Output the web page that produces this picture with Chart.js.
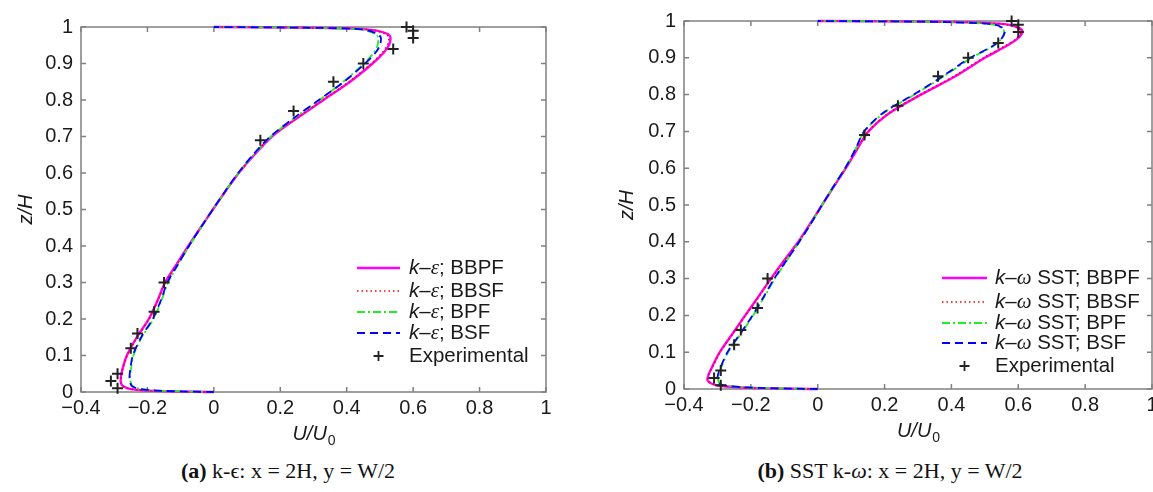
<!DOCTYPE html>
<html>
<head>
<meta charset="utf-8">
<script src="https://cdn.jsdelivr.net/npm/chart.js@4.4.1/dist/chart.umd.min.js"></script>
<style>
  body { margin: 0; width: 1153px; height: 492px; overflow: hidden; background: #fff; position: relative; }
  .box { position: absolute; top: 0; height: 445px; }
  .cap { position: absolute; top: 458px; font-family: "Liberation Serif", serif; font-size: 22px; color: #111; white-space: nowrap; transform: translateX(-50%); }
</style>
</head>
<body>
<div class="box" style="left:0;width:576px"><canvas id="chartA"></canvas></div>
<div class="box" style="left:580px;width:600px"><canvas id="chartB"></canvas></div>
<div class="cap" style="left:288px"><b>(a)</b> k-ϵ: x = 2H, y = W/2</div>
<div class="cap" style="left:890px"><b>(b)</b> SST k-<i>ω</i>: x = 2H, y = W/2</div>
<script>
// z/H levels shared by all computed profiles
const zGrid = [0, 0.003, 0.008, 0.015, 0.025, 0.04, 0.06, 0.1, 0.15, 0.2, 0.25, 0.3, 0.35, 0.4, 0.45, 0.5,
  0.55, 0.6, 0.65, 0.7, 0.75, 0.8, 0.85, 0.9, 0.93, 0.95, 0.97, 0.98, 0.99, 0.995, 0.998, 1];

// (a) k-epsilon, U/U0
const keBBPF = [0, -0.18, -0.25, -0.272, -0.28, -0.28, -0.276, -0.262, -0.232, -0.196, -0.17, -0.147, -0.112, -0.077, -0.04, -0.003,
  0.035, 0.075, 0.122, 0.175, 0.25, 0.33, 0.41, 0.478, 0.512, 0.527, 0.532, 0.525, 0.49, 0.44, 0.3, 0];
const keBBSF = [0, -0.18, -0.25, -0.271, -0.279, -0.279, -0.275, -0.261, -0.231, -0.195, -0.169, -0.146, -0.111, -0.076, -0.04, -0.003,
  0.035, 0.075, 0.121, 0.174, 0.249, 0.328, 0.407, 0.474, 0.507, 0.522, 0.527, 0.52, 0.487, 0.437, 0.3, 0];
const keBPF = [0, -0.15, -0.22, -0.243, -0.25, -0.252, -0.25, -0.242, -0.217, -0.182, -0.158, -0.138, -0.107, -0.074, -0.039, -0.003,
  0.035, 0.074, 0.12, 0.172, 0.242, 0.318, 0.39, 0.452, 0.482, 0.493, 0.495, 0.488, 0.46, 0.415, 0.28, 0];
const keBSF = [0, -0.15, -0.22, -0.245, -0.252, -0.254, -0.252, -0.244, -0.219, -0.184, -0.16, -0.14, -0.108, -0.075, -0.04, -0.003,
  0.034, 0.073, 0.118, 0.17, 0.24, 0.316, 0.392, 0.455, 0.487, 0.5, 0.503, 0.495, 0.465, 0.42, 0.28, 0];

// (b) SST k-omega, U/U0
const swBBPF = [0, -0.2, -0.29, -0.318, -0.33, -0.326, -0.316, -0.293, -0.255, -0.217, -0.178, -0.14, -0.1, -0.058, -0.022, 0.013,
  0.048, 0.084, 0.117, 0.152, 0.215, 0.309, 0.412, 0.5, 0.56, 0.595, 0.613, 0.605, 0.57, 0.5, 0.38, 0];
const swBBSF = [0, -0.2, -0.289, -0.317, -0.329, -0.325, -0.315, -0.292, -0.254, -0.216, -0.177, -0.139, -0.099, -0.057, -0.021, 0.013,
  0.048, 0.083, 0.116, 0.151, 0.213, 0.307, 0.408, 0.496, 0.556, 0.591, 0.609, 0.601, 0.567, 0.497, 0.375, 0];
const swBPF = [0, -0.17, -0.268, -0.293, -0.298, -0.296, -0.288, -0.268, -0.23, -0.193, -0.16, -0.128, -0.092, -0.055, -0.02, 0.013,
  0.047, 0.082, 0.112, 0.14, 0.198, 0.29, 0.378, 0.46, 0.522, 0.548, 0.558, 0.552, 0.525, 0.455, 0.33, 0];
const swBSF = [0, -0.17, -0.27, -0.295, -0.3, -0.298, -0.29, -0.27, -0.232, -0.195, -0.162, -0.13, -0.093, -0.055, -0.02, 0.013,
  0.047, 0.082, 0.112, 0.139, 0.195, 0.287, 0.374, 0.456, 0.52, 0.548, 0.56, 0.555, 0.53, 0.46, 0.33, 0];

// experimental points (same in both panels)
const expU = [0.58, 0.60, 0.60, 0.54, 0.45, 0.36, 0.24, 0.14, -0.15, -0.18, -0.23, -0.25, -0.29, -0.31, -0.29];
const expZ = [1.0, 0.99, 0.97, 0.94, 0.90, 0.85, 0.77, 0.69, 0.30, 0.22, 0.16, 0.12, 0.05, 0.03, 0.01];

const caseNames = ['BBPF', 'BBSF', 'BPF', 'BSF'];
const xTicks = [-0.4, -0.2, 0, 0.2, 0.4, 0.6, 0.8, 1];
const yTicks = [0, 0.1, 0.2, 0.3, 0.4, 0.5, 0.6, 0.7, 0.8, 0.9, 1];

const lineStyles = [
  { color: '#ff00ff', dash: [], width: 2.4 },
  { color: '#ff0000', dash: [1.5, 3], width: 1.6 },
  { color: '#22ee22', dash: [8, 3, 2, 3], width: 1.8 },
  { color: '#0000ff', dash: [8, 5], width: 1.8 },
];

const tickFont = { family: '"Liberation Sans", Arial, sans-serif', size: 20 };
const fmt = v => String(Math.round(v * 10) / 10).replace('-', '\u2212');

const framePlugin = {
  id: 'frame',
  beforeDatasetsDraw(chart) {
    const { ctx, chartArea: a, scales: { x, y } } = chart;
    ctx.save();
    ctx.strokeStyle = '#808080';
    ctx.lineWidth = 1.5;
    ctx.strokeRect(a.left, a.top, a.right - a.left, a.bottom - a.top);
    ctx.beginPath();
    x.ticks.forEach(t => {
      const px = x.getPixelForValue(t.value);
      ctx.moveTo(px, a.bottom); ctx.lineTo(px, a.bottom - 5);
      ctx.moveTo(px, a.top); ctx.lineTo(px, a.top + 5);
    });
    y.ticks.forEach(t => {
      const py = y.getPixelForValue(t.value);
      ctx.moveTo(a.left, py); ctx.lineTo(a.left + 5, py);
      ctx.moveTo(a.right, py); ctx.lineTo(a.right - 5, py);
    });
    ctx.stroke();
    ctx.restore();
  },
  afterDraw(chart, args, opts) {
    const { ctx, chartArea: a } = chart;
    ctx.save();
    // x axis label U/U0
    const cx = (a.left + a.right) / 2;
    const ty = a.bottom + opts.xTitleDy;
    ctx.fillStyle = '#1a1a1a';
    ctx.textBaseline = 'alphabetic';
    ctx.font = 'italic 20px "Liberation Sans", Arial, sans-serif';
    const main = 'U/U';
    const w1 = ctx.measureText(main).width;
    ctx.font = '14px "Liberation Sans", Arial, sans-serif';
    const w2 = ctx.measureText('0').width;
    const x0 = cx - (w1 + w2) / 2;
    ctx.font = 'italic 20px "Liberation Sans", Arial, sans-serif';
    ctx.fillText(main, x0, ty);
    ctx.font = '14px "Liberation Sans", Arial, sans-serif';
    ctx.fillText('0', x0 + w1 + 1, ty + 5);
    ctx.restore();
  }
};

const legendPlugin = {
  id: 'innerLegend',
  afterDatasetsDraw(chart, args, opts) {
    const { ctx, chartArea: a } = chart;
    const sans = '"Liberation Sans", Arial, sans-serif';
    ctx.save();
    ctx.textBaseline = 'middle';
    chart.data.datasets.forEach((ds, i) => {
      const yy = a.bottom + opts.rows[i];
      const l0 = a.right + opts.lineFrom, l1 = a.right + opts.lineTo;
      if (ds.showLine) {
        ctx.beginPath();
        ctx.setLineDash(ds.borderDash || []);
        ctx.strokeStyle = ds.borderColor;
        ctx.lineWidth = ds.borderWidth;
        ctx.moveTo(l0, yy); ctx.lineTo(l1, yy);
        ctx.stroke();
        ctx.setLineDash([]);
      } else {
        const mx = (l0 + l1) / 2;
        ctx.beginPath();
        ctx.strokeStyle = '#222';
        ctx.lineWidth = 1.8;
        ctx.moveTo(mx - 5, yy); ctx.lineTo(mx + 5, yy);
        ctx.moveTo(mx, yy - 5); ctx.lineTo(mx, yy + 5);
        ctx.stroke();
      }
      let tx = a.right + opts.textFrom;
      ctx.fillStyle = '#1a1a1a';
      ds.labelParts.forEach(([txt, font]) => {
        ctx.font = font === 'i' ? 'italic 20.5px ' + sans
          : font === 'g' ? 'italic 21px "Liberation Serif", serif'
          : '20.5px ' + sans;
        ctx.fillText(txt, tx, yy);
        tx += ctx.measureText(txt).width;
      });
    });
    ctx.restore();
  }
};

function buildDatasets(series, greek, extra) {
  const sets = series.map((xs, i) => ({
    label: caseNames[i],
    labelParts: [['k', 'i'], ['\u2013', 'n'], [greek, 'g'], [extra + '; ' + caseNames[i], 'n']],
    data: xs.map((v, k) => ({ x: v, y: zGrid[k] })),
    showLine: true,
    borderColor: lineStyles[i].color,
    borderDash: lineStyles[i].dash,
    borderWidth: lineStyles[i].width,
    pointRadius: 0,
    tension: 0.3,
    clip: 3,
    order: 4 - i,
  }));
  sets.push({
    label: 'Experimental',
    labelParts: [['Experimental', 'n']],
    data: expU.map((v, k) => ({ x: v, y: expZ[k] })),
    showLine: false,
    pointStyle: 'cross',
    pointRadius: 5.5,
    pointBorderWidth: 2,
    borderColor: '#222',
    backgroundColor: '#222',
    clip: false,
    order: 0,
  });
  return sets;
}

function makeChart(id, datasets, cfg) {
  return new Chart(document.getElementById(id), {
    type: 'scatter',
    data: { datasets },
    options: {
      responsive: true,
      maintainAspectRatio: false,
      animation: false,
      layout: { autoPadding: false, padding: { top: cfg.top, right: cfg.right, left: 0, bottom: 0 } },
      scales: {
        x: {
          type: 'linear', min: -0.4, max: 1,
          afterBuildTicks: s => { s.ticks = xTicks.map(v => ({ value: v })); },
          afterFit: s => { s.height = cfg.xHeight; },
          grid: { display: false, drawTicks: false },
          border: { display: false },
          ticks: { font: tickFont, color: '#1a1a1a', padding: 4, maxRotation: 0, autoSkip: false, callback: fmt },
        },
        y: {
          type: 'linear', min: 0, max: 1,
          afterBuildTicks: s => { s.ticks = yTicks.map(v => ({ value: v })); },
          afterFit: s => { s.width = cfg.yWidth; },
          grid: { display: false, drawTicks: false },
          border: { display: false },
          ticks: { font: tickFont, color: '#1a1a1a', padding: 8, autoSkip: false, callback: fmt },
          title: { display: true, text: 'z/H', color: '#1a1a1a', padding: { top: cfg.yTitlePad, bottom: 0 },
            font: { family: tickFont.family, size: 20, style: 'italic' } },
        },
      },
      plugins: {
        legend: { display: false },
        tooltip: { enabled: false },
        frame: { xTitleDy: 48 },
        innerLegend: cfg.legend,
      },
    },
    plugins: [framePlugin, legendPlugin],
  });
}

makeChart('chartA', buildDatasets([keBBPF, keBBSF, keBPF, keBSF], '\u03b5', ''), {
  top: 27, right: 30, xHeight: 53, yWidth: 81, yTitlePad: 14,
  legend: { lineFrom: -189, lineTo: -146, textFrom: -137, rows: [-124, -101, -80, -59, -36] },
});

makeChart('chartB', buildDatasets([swBBPF, swBBSF, swBPF, swBSF], '\u03c9', ' SST'), {
  top: 21, right: 28, xHeight: 56, yWidth: 104, yTitlePad: 35,
  legend: { lineFrom: -210, lineTo: -165, textFrom: -157, rows: [-111, -87, -66, -46, -23] },
});
</script>
</body>
</html>
